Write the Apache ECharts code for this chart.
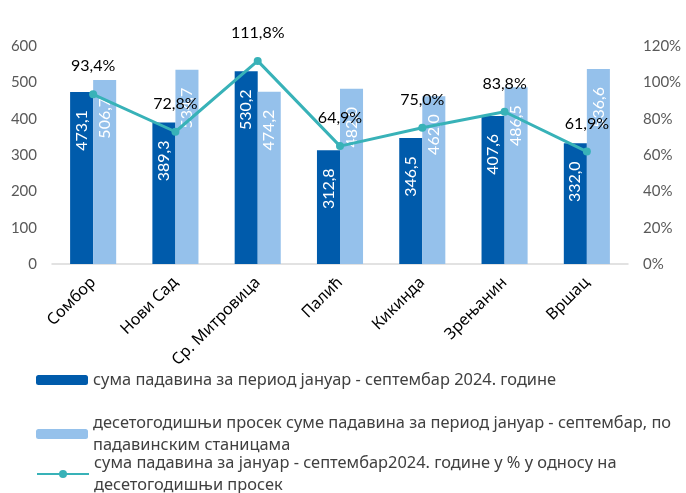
<!DOCTYPE html>
<html>
<head>
<meta charset="utf-8">
<script src="https://cdn.jsdelivr.net/npm/echarts@6/dist/echarts.min.js"></script>
<style>
  html, body { margin: 0; padding: 0; background: #fff; }
  #chart { width: 686px; height: 493px; }
</style>
</head>
<body>
<div id="chart"></div>
<script>
// --- Data ---
const stations = ['Сомбор', 'Нови Сад', 'Ср. Митровица', 'Палић', 'Кикинда', 'Зрењанин', 'Вршац'];
const sum2024 = [473.1, 389.3, 530.2, 312.8, 346.5, 407.6, 332.0];
const tenYearAvg = [506.7, 534.7, 474.2, 482.0, 462.0, 486.5, 536.6];
const percentOfAvg = [93.4, 72.8, 111.8, 64.9, 75.0, 83.8, 61.9];

const seriesNames = [
    'сума падавина за период јануар - септембар 2024. године',
    'десетогодишњи просек суме падавина за период јануар - септембар, по\nпадавинским станицама',
    'сума падавина за јануар - септембар2024. године у % у односу на\nдесетогодишњи просек'
];

const comma = (v) => v.toFixed(1).replace('.', ',');

const chart = echarts.init(document.getElementById('chart'));

const barLabel = {
    show: true,
    position: 'insideTop',
    rotate: 90,
    align: 'right',
    verticalAlign: 'middle',
    distance: 18,
    color: '#fff',
    fontFamily: 'Lato',
    fontSize: 16,
    formatter: (p) => comma(p.value)
};

const legendText = { color: '#404040', fontFamily: 'Noto Sans', fontSize: 16.4, lineHeight: 22 };

// three separate legends so each row sits where it does in the original
const legendBase = { left: 36, padding: 0, itemWidth: 52, itemHeight: 10, itemGap: 0, textStyle: legendText };

const option = {
    animation: false,
    grid: { left: 52, right: 58, top: 46, bottom: 229 },
    legend: [
        Object.assign({ data: [seriesNames[0]], top: 369 }, legendBase),
        Object.assign({ data: [seriesNames[1]], top: 412 }, legendBase),
        Object.assign({ data: [seriesNames[2]], top: 452 }, legendBase)
    ],
    xAxis: {
        type: 'category',
        data: stations,
        axisTick: { show: false },
        axisLine: { lineStyle: { color: '#d9d9d9', width: 1.5 } },
        axisLabel: { rotate: 45, color: '#000', fontFamily: 'Noto Sans', fontSize: 16, margin: 16, interval: 0 }
    },
    yAxis: [
        {
            type: 'value', min: 0, max: 600, interval: 100,
            splitLine: { show: false },
            axisLabel: { color: '#595959', fontFamily: 'Lato', fontSize: 15, margin: 15 }
        },
        {
            type: 'value', min: 0, max: 120, interval: 20,
            splitLine: { show: false },
            axisLabel: { color: '#595959', fontFamily: 'Lato', fontSize: 15, margin: 15, formatter: '{value}%' }
        }
    ],
    series: [
        {
            name: seriesNames[0],
            type: 'bar',
            data: sum2024,
            barWidth: '28%',
            barGap: '0%',
            itemStyle: { color: '#005bab' },
            label: barLabel
        },
        {
            name: seriesNames[1],
            type: 'bar',
            data: tenYearAvg,
            barWidth: '28%',
            itemStyle: { color: '#95c1eb' },
            label: barLabel
        },
        {
            name: seriesNames[2],
            type: 'line',
            yAxisIndex: 1,
            data: percentOfAvg,
            symbol: 'circle',
            symbolSize: 8,
            lineStyle: { color: '#38b2b8', width: 3 },
            itemStyle: { color: '#38b2b8' },
            label: {
                show: true,
                position: 'top',
                distance: 16,
                color: '#000',
                fontFamily: 'Lato',
                fontSize: 16,
                formatter: (p) => comma(p.value) + '%'
            }
        }
    ]
};

chart.setOption(option);
</script>
</body>
</html>
